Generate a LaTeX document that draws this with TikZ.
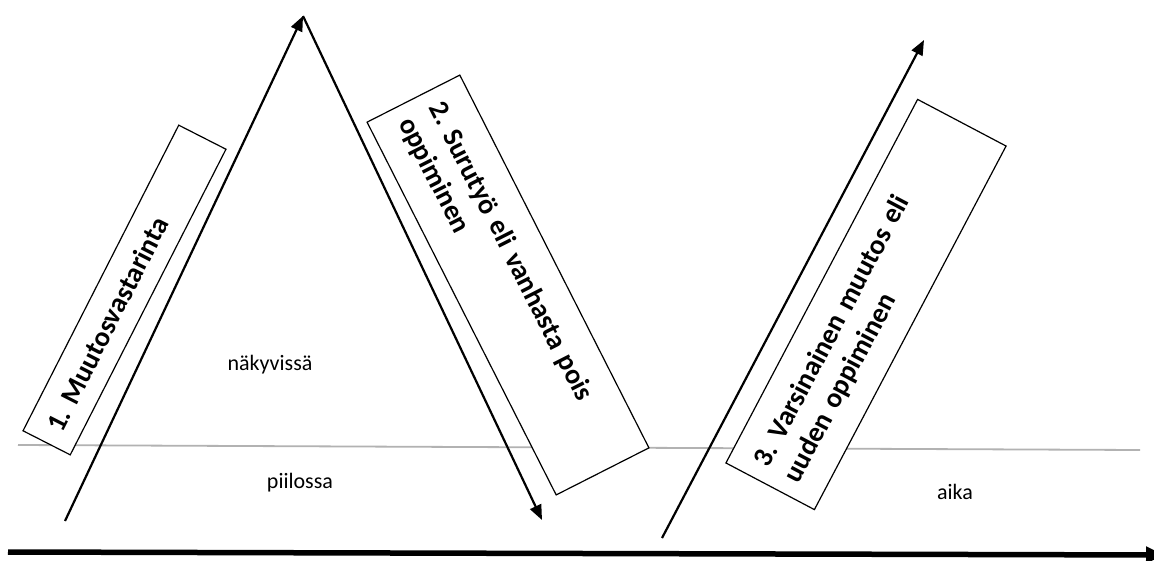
\documentclass[tikz,border=0pt]{standalone}
\usepackage{fontspec}
\setmainfont{Carlito}
\usetikzlibrary{arrows.meta}
\frenchspacing
\begin{document}
\begin{tikzpicture}[x=1pt,y=-1pt,
  stagebox/.style={draw, fill=white, line width=1.2pt, inner xsep=15pt, inner ysep=0pt,
    font=\bfseries\fontsize{28}{34}\selectfont, align=left},
  flow/.style={-{Triangle[length=15pt,width=12pt]}, line width=2.2pt},
  axis/.style={-{Triangle[length=18pt,width=16pt]}, line width=5.5pt},
  level/.style={draw=black!30, line width=1.8pt},
  tag/.style={font=\fontsize{22}{26}\selectfont, inner sep=0pt}]
\clip (0,0) rectangle (1154,560);
\fill[white] (0,0) rectangle (1154,560);
% level line
\coordinate (gl) at (18,445);
\coordinate (gr) at (1140,450);
\draw[level] (gl) -- (gr);
% boxes
\node[stagebox, text width=313pt, minimum height=53pt, rotate=63] (b1) at (124.5,290) {1. Muutosvastarinta};
\node[stagebox, text width=388pt, minimum height=104pt, rotate=-63.1] (b2) at (508,285) {2. Surutyö eli vanhasta pois\\oppiminen};
\node[stagebox, text width=381pt, minimum height=100pt, rotate=62.2] (b3) at (866,304.5) {3. Varsinainen muutos eli\\uuden oppiminen};
% arrows
\coordinate (a1s) at (65,521);
\coordinate (apex) at (303,16);
\coordinate (a2e) at (542,520);
\coordinate (a3s) at (662,538);
\coordinate (a3e) at (924,40);
\draw[flow] (a1s) -- (apex);
\draw[flow] (apex) -- (a2e);
\draw[flow] (a3s) -- (a3e);
% time axis
\coordinate (ts) at (8,552);
\coordinate (te) at (1164,555);
\draw[axis] (ts) -- (te);
% labels
\node[tag] (nak) at (270,365) {näkyvissä};
\node[tag] (pii) at (300,483) {piilossa};
\node[tag] (aika) at (955,492) {aika};
\end{tikzpicture}
\end{document}
